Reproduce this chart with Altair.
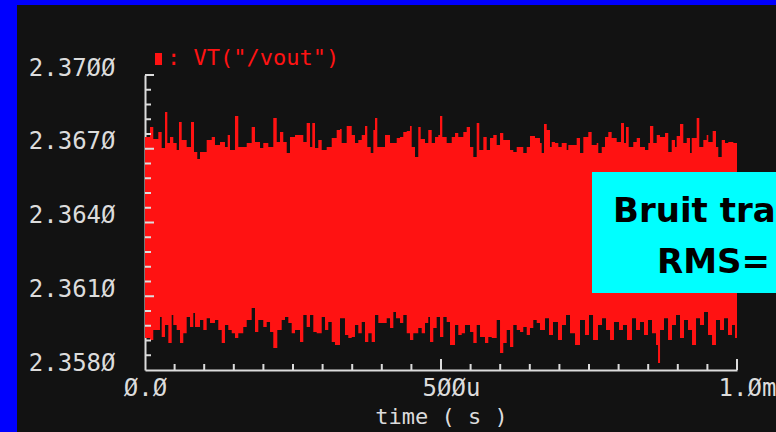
import altair as alt
import pandas as pd

# ---------------- data ----------------
# upper envelope of the noisy transient (time in microseconds, volts)
top_t = [0, 8.4, 14.0, 22.5, 28.2, 33.8, 37.7, 42.2, 47.8, 53.5,
         57.4, 62.0, 70.4, 77.7, 82.8, 88.3, 92.9, 104.2, 112.7, 118.2,
         126.7, 135.1, 139.7, 143.6, 152.0, 157.6, 171.8, 180.2, 185.8, 194.3,
         199.8, 208.3, 216.7, 222.5, 228.0, 233.6, 239.4, 244.9, 253.4, 267.4,
         273.1, 278.7, 282.6, 287.2, 292.7, 298.5, 306.9, 315.4, 323.8,
         329.4, 332.2, 340.7, 349.2, 354.7, 360.3, 366.1, 371.6, 375.5, 381.3,
         385.7, 388.5, 392.4, 405.4, 413.9, 425.2, 430.7, 436.3, 442.1, 447.6,
         450.5, 456.1, 461.6, 465.7, 473.0, 478.5, 484.3, 489.9, 495.4, 498.3,
         502.2, 509.6, 518.1, 523.7, 529.2, 537.7, 543.4, 549.0, 554.6, 560.3,
         564.7, 571.5, 577.2, 582.8, 588.3, 594.1, 599.7, 605.2, 616.6, 622.1,
         627.9, 639.0, 644.8, 650.3, 658.8,
         667.2, 670.1, 674.0, 678.6, 684.1, 687.0, 692.6, 698.2, 703.9, 712.3,
         715.0, 729.2, 734.8, 740.4, 748.8, 754.5, 763.0, 765.7, 771.5, 777.0,
         782.6, 788.3, 796.8, 804.1, 809.1, 812.5, 817.1, 824.8, 830.6, 836.2,
         844.6, 850.2, 853.0, 858.6, 864.4, 869.9, 878.4, 883.9, 889.7, 895.3,
         898.1, 903.7, 909.3, 915.1, 920.6, 923.5, 931.9, 936.3, 943.1, 948.8,
         951.5, 958.9, 964.5, 968.4, 974.2, 979.7, 985.3, 993.8, 1000]
top_v = [2.36748, 2.36788, 2.36740, 2.36768, 2.36703, 2.36849, 2.36723, 2.36748, 2.36723, 2.36695,
         2.36809, 2.36736, 2.36707, 2.36809, 2.36687, 2.36658, 2.36687, 2.36736, 2.36748, 2.36715,
         2.36727, 2.36707, 2.36756, 2.36695, 2.36833, 2.36707, 2.36723, 2.36788, 2.36727, 2.36703,
         2.36723, 2.36707, 2.36825, 2.36727, 2.36768, 2.36727, 2.36683, 2.36748, 2.36756, 2.36727,
         2.36805, 2.36707, 2.36805, 2.36703, 2.36736, 2.36695, 2.36707, 2.36744, 2.36776,
         2.36780, 2.36723, 2.36793, 2.36756, 2.36723, 2.36736, 2.36756, 2.36793, 2.36707, 2.36683,
         2.36776, 2.36825, 2.36707, 2.36756, 2.36723, 2.36744, 2.36748, 2.36768, 2.36772, 2.36793,
         2.36707, 2.36666, 2.36788, 2.36740, 2.36723, 2.36776, 2.36723, 2.36748, 2.36756, 2.36833,
         2.36748, 2.36723, 2.36748, 2.36764, 2.36748, 2.36768, 2.36788, 2.36707, 2.36666, 2.36805,
         2.36695, 2.36748, 2.36695, 2.36744, 2.36756, 2.36715, 2.36764, 2.36736, 2.36695, 2.36687,
         2.36707, 2.36683, 2.36707, 2.36752, 2.36744,
         2.36723, 2.36683, 2.36801, 2.36776, 2.36707, 2.36727, 2.36723, 2.36707, 2.36723, 2.36695,
         2.36715, 2.36744, 2.36683, 2.36748, 2.36768, 2.36715, 2.36723, 2.36683, 2.36707, 2.36748,
         2.36768, 2.36744, 2.36727, 2.36805, 2.36723, 2.36788, 2.36707, 2.36727, 2.36744, 2.36707,
         2.36695, 2.36723, 2.36793, 2.36723, 2.36756, 2.36748, 2.36764, 2.36687, 2.36736, 2.36707,
         2.36752, 2.36801, 2.36723, 2.36744, 2.36683, 2.36744, 2.36825, 2.36707, 2.36736, 2.36756,
         2.36727, 2.36772, 2.36707, 2.36666, 2.36736, 2.36723, 2.36727, 2.36723, 2.36723]

# lower envelope of the noisy transient
bot_t = [0, 8.4, 14.0, 25.3, 28.2, 33.8, 39.4, 45.1, 47.8, 53.5,
         59.1, 64.7, 70.4, 76.0, 81.6, 84.5, 92.9, 98.5, 104.2, 109.8,
         118.2, 123.8, 129.6, 135.1, 140.7, 146.5, 152.0, 157.6, 166.0, 171.8,
         180.2, 185.8, 191.4, 199.8, 205.6, 211.2, 216.7, 223.5, 230.9, 236.5,
         242.1, 247.8, 253.4, 261.8, 267.4, 273.1, 278.7, 284.3, 290.0, 298.5,
         304.1, 309.6, 315.4, 320.9,
         329.4, 337.8, 343.4, 349.2, 354.7, 360.3, 366.1, 371.6, 377.2, 382.9,
         388.5, 394.1, 408.3, 413.9, 419.5, 424.0, 430.7, 436.3, 442.1, 447.6,
         453.2, 461.6, 467.4, 473.0, 478.5, 481.4, 487.0, 492.7, 498.3, 503.9,
         509.6, 515.2, 523.7, 529.2, 535.0, 540.5, 549.0, 554.6, 560.3, 565.9,
         574.3, 579.9, 585.7, 594.1, 599.7, 605.2, 611.0, 616.6, 622.1, 627.9,
         633.5, 639.0, 644.8, 650.3, 655.9, 661.7,
         667.2, 675.7, 682.4, 689.2, 697.6, 704.4, 711.2, 717.9, 726.4, 734.8,
         743.2, 750.0, 756.8, 765.2, 772.0, 778.7, 785.5, 792.2, 800.7, 807.4,
         814.2, 822.6, 829.4, 836.2, 842.9, 849.7, 856.4, 863.2, 866.6, 870.0,
         876.7, 883.5, 890.2, 897.0, 903.7, 910.5, 917.2, 924.0, 930.8, 937.5,
         944.3, 951.0, 957.8, 964.5, 971.3, 978.1, 984.8, 991.6, 996.6, 1000]
bot_v = [2.35930, 2.35922, 2.35963, 2.36016, 2.35934, 2.35983, 2.35910, 2.36024, 2.35983, 2.35963,
         2.35910, 2.35950, 2.36016, 2.35975, 2.36032, 2.35975, 2.36003, 2.35963, 2.36011, 2.35991,
         2.36003, 2.35963, 2.35910, 2.35983, 2.35963, 2.35950, 2.35930, 2.35950, 2.35975, 2.36003,
         2.36052, 2.35955, 2.36003, 2.35975, 2.35995, 2.35955, 2.35889, 2.35963, 2.36003, 2.36016,
         2.35991, 2.35950, 2.35963, 2.35914, 2.36024, 2.35975, 2.36024, 2.35955, 2.35950, 2.36016,
         2.35963, 2.35995, 2.35914, 2.35902,
         2.36011, 2.35942, 2.35930, 2.35934, 2.35983, 2.35950, 2.35995, 2.35914, 2.35950, 2.35914,
         2.36024, 2.35991, 2.36011, 2.35971, 2.36036, 2.36011, 2.35991, 2.36024, 2.35950, 2.35922,
         2.35950, 2.35971, 2.35950, 2.35991, 2.36016, 2.35914, 2.35971, 2.36016, 2.35934, 2.36016,
         2.35995, 2.35902, 2.35983, 2.35942, 2.35950, 2.35983, 2.35955, 2.35910, 2.35983, 2.35934,
         2.35910, 2.35934, 2.35930, 2.36003, 2.35869, 2.35910, 2.35963, 2.35894, 2.35983, 2.35963,
         2.35955, 2.35975, 2.35942, 2.35971, 2.36003, 2.35991,
         2.35963, 2.36011, 2.35942, 2.35995, 2.35922, 2.35983, 2.36024, 2.35950, 2.35902, 2.36003,
         2.35942, 2.36024, 2.35922, 2.35983, 2.36011, 2.35963, 2.35922, 2.35995, 2.35963, 2.35983,
         2.35922, 2.36011, 2.35963, 2.35995, 2.35942, 2.36003, 2.35950, 2.35902, 2.35828, 2.35963,
         2.36011, 2.35922, 2.35983, 2.36024, 2.35930, 2.36003, 2.35963, 2.35902, 2.36011, 2.35983,
         2.36036, 2.35942, 2.35902, 2.36003, 2.35963, 2.36011, 2.35942, 2.35983, 2.35930, 2.35930]

assert len(top_t) == len(top_v) and len(bot_t) == len(bot_v)

# axes
x_label_vals = [0, 500, 1000]
x_label_txt = ["0.0", "500u", "1.0m"]
y_label_vals = [2.358, 2.361, 2.364, 2.367, 2.370]
x_minor = [50, 100, 150, 200, 250, 300, 350, 400, 450, 550, 600, 650, 700, 750, 800, 850, 900, 950]
x_major = [500, 1000]
y_minor = [2.3586, 2.3592, 2.3598, 2.3604, 2.3616, 2.3622, 2.3628, 2.3634,
           2.3646, 2.3652, 2.3658, 2.3664, 2.3676, 2.3682, 2.3688, 2.3694]
y_major = [2.3610, 2.3640, 2.3670, 2.3700]

x_title = "time ( s )"
legend_label = 'VT("/vout")'
box_lines = ["Bruit transitoire", "RMS="]

# ---------------- styling ----------------
RED = "#ff1212"
BG = "#121212"
AX = "#dcdcdc"
MONO = "DejaVu Sans Mono"
W, H = 592, 295

def slash0(s):
    return s.replace("0", "Ø")

x_expr = " : ".join(
    [f"datum.value == {v} ? '{slash0(t)}'" for v, t in zip(x_label_vals[:-1], x_label_txt[:-1])]
    + [f"'{slash0(x_label_txt[-1])}'"]
)

xs = alt.Scale(domain=[0, 1000], nice=False, zero=False)
ys = alt.Scale(domain=[2.358, 2.370], nice=False, zero=False)

xaxis = alt.Axis(
    values=x_label_vals, labelExpr=x_expr,
    labelFont=MONO, labelFontSize=24, labelColor=AX, labelPadding=6,
    labelOffset={"condition": {"test": "datum.value > 0", "value": 10}, "value": 0},
    labelFlush=False, labelOverlap=False,
    ticks=False, tickSize=0, grid=False,
    domainColor=AX, domainWidth=2,
    title=x_title, titleFont=MONO, titleFontSize=22, titleFontWeight="normal",
    titleColor=AX, titleY=53, titleBaseline="alphabetic",
)
yaxis = alt.Axis(
    values=y_label_vals,
    labelExpr="replace(format(datum.value, '.4f'), regexp('0', 'g'), 'Ø')",
    labelFont=MONO, labelFontSize=24, labelColor=AX, labelPadding=30,
    labelBaseline="alphabetic", labelFlush=False, labelOverlap=False,
    ticks=False, tickSize=0, grid=False,
    domainColor=AX, domainWidth=2, title="",
)

X = alt.X("t:Q", scale=xs, axis=xaxis)
Y = alt.Y("v:Q", scale=ys, axis=yaxis)

top_df = pd.DataFrame({"t": top_t, "v": top_v})
bot_df = pd.DataFrame({"t": bot_t, "v": bot_v})
one = pd.DataFrame({"k": [0]})

upper = alt.Chart(top_df).mark_area(interpolate="step-after", color=RED, opacity=1).encode(
    x=X, y=Y, y2=alt.datum(2.3630))
lower = alt.Chart(bot_df).mark_area(interpolate="step-after", color=RED, opacity=1).encode(
    x=X, y=Y, y2=alt.datum(2.3640))

xt_minor = alt.Chart(pd.DataFrame({"t": x_minor})).mark_rule(color=AX, strokeWidth=2).encode(
    x=X, y=alt.value(H - 6), y2=alt.value(H))
xt_major = alt.Chart(pd.DataFrame({"t": x_major})).mark_rule(color=AX, strokeWidth=2).encode(
    x=X, y=alt.value(H - 11), y2=alt.value(H))
yt_minor = alt.Chart(pd.DataFrame({"v": y_minor})).mark_rule(color=AX, strokeWidth=2).encode(
    y=Y, x=alt.value(0), x2=alt.value(6))
yt_major = alt.Chart(pd.DataFrame({"v": y_major})).mark_rule(color=AX, strokeWidth=2).encode(
    y=Y, x=alt.value(0), x2=alt.value(9))

leg_sq = alt.Chart(one).mark_rect(color=RED).encode(
    x=alt.value(10), x2=alt.value(17), y=alt.value(-22), y2=alt.value(-10))
leg_txt = alt.Chart(one).mark_text(
    align="left", baseline="alphabetic", font=MONO, fontSize=22, color=RED
).encode(x=alt.value(22), y=alt.value(-10), text=alt.value(": " + legend_label))

box = alt.Chart(one).mark_rect(color="#00ffff").encode(
    x=alt.value(447), x2=alt.value(640), y=alt.value(97), y2=alt.value(218))
box_t1 = alt.Chart(one).mark_text(
    align="left", baseline="alphabetic", font="DejaVu Sans", fontWeight="bold",
    fontSize=34, color="#000000"
).encode(x=alt.value(468), y=alt.value(147), text=alt.value(box_lines[0]))
box_t2 = alt.Chart(one).mark_text(
    align="left", baseline="alphabetic", font="DejaVu Sans", fontWeight="bold",
    fontSize=34, color="#000000"
).encode(x=alt.value(512), y=alt.value(198), text=alt.value(box_lines[1]))

frame_left = alt.Chart(one).mark_rect(color="#0000ff").encode(
    x=alt.value(-145), x2=alt.value(-128), y=alt.value(-75), y2=alt.value(357))
frame_top = alt.Chart(one).mark_rect(color="#0000ff").encode(
    x=alt.value(-145), x2=alt.value(631), y=alt.value(-75), y2=alt.value(-70))

chart = alt.layer(
    upper, lower, xt_minor, xt_major, yt_minor, yt_major,
    leg_sq, leg_txt, box, box_t1, box_t2, frame_left, frame_top
).properties(
    width=W, height=H, autosize="none", background=BG,
    padding={"left": 145, "top": 75, "right": 39, "bottom": 62},
).configure_view(strokeWidth=0)

chart.save("out.html", embed_options={"renderer": "svg", "actions": False})
